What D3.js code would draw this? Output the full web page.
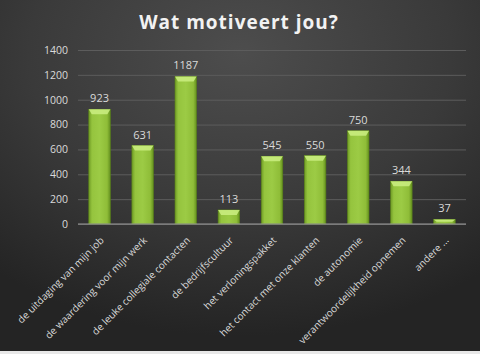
<!DOCTYPE html>
<html><head><meta charset="utf-8">
<script src="https://cdn.jsdelivr.net/npm/d3@7"></script>
<style>html,body{margin:0;padding:0;background:#fff;}svg{display:block;}</style>
</head><body>
<script>
const categories = ["de  uitdaging van mijn job","de waardering voor mijn werk","de leuke collegiale contacten","de bedrijfscultuur","het verloningspakket","het contact met onze klanten","de autonomie","verantwoordelijkheid opnemen","andere ..."];
const values = [923,631,1187,113,545,550,750,344,37];
const yTicks = [0,200,400,600,800,1000,1200,1400];
const title = "Wat motiveert jou?";

const W=480,H=354;
const FONT="Open Sans, DejaVu Sans, sans-serif";
const svg=d3.select("body").append("svg").attr("width",W).attr("height",H);
const defs=svg.append("defs");
const bg=defs.append("radialGradient").attr("id","bg").attr("cx","50%").attr("cy","15%").attr("r","80%");
bg.append("stop").attr("offset","0%").attr("stop-color","#4d4d4d");
bg.append("stop").attr("offset","55%").attr("stop-color","#3a3a3a");
bg.append("stop").attr("offset","100%").attr("stop-color","#242424");
const bar=defs.append("linearGradient").attr("id","bar").attr("x1","0").attr("x2","1").attr("y1","0").attr("y2","0");
bar.append("stop").attr("offset","0%").attr("stop-color","#6f9b25");
bar.append("stop").attr("offset","15%").attr("stop-color","#95c43e");
bar.append("stop").attr("offset","50%").attr("stop-color","#9ccb45");
bar.append("stop").attr("offset","85%").attr("stop-color","#8fbd38");
bar.append("stop").attr("offset","100%").attr("stop-color","#64901f");

svg.append("rect").attr("width",W).attr("height",H).attr("fill","url(#bg)");
svg.append("rect").attr("x",0).attr("y",H-3).attr("width",W).attr("height",3).attr("fill","#e8e8e8");

const x=d3.scaleBand().domain(categories).range([78,466]).paddingInner(0.5).paddingOuter(0.25);
const y=d3.scaleLinear().domain([0,1400]).range([224,50]);

svg.append("text").attr("x",239).attr("y",29).attr("text-anchor","middle")
 .attr("font-family",FONT).attr("font-weight","bold")
 .attr("font-size",19).attr("letter-spacing",1).attr("fill","#f2f2f2").text(title);

const ga=svg.append("g").attr("transform","translate(78,0)")
 .call(d3.axisLeft(y).tickValues(yTicks).tickFormat(d3.format("d")).tickSize(-388).tickPadding(10));
ga.select(".domain").remove();
ga.selectAll(".tick line").attr("stroke","#5c5c5c").attr("stroke-width",1);
ga.selectAll(".tick text").attr("fill","#dadada").attr("font-size",10.5).attr("font-family",FONT);

const g=svg.append("g");
g.selectAll("rect.b").data(values).join("rect").attr("class","b")
 .attr("x",(d,i)=>x(categories[i])).attr("width",x.bandwidth())
 .attr("y",d=>y(d)).attr("height",d=>y(0)-y(d))
 .attr("fill","url(#bar)").attr("stroke","#5a8418").attr("stroke-width",0.6);
g.selectAll("path.hl").data(values).join("path").attr("class","hl")
 .attr("d",(d,i)=>{const x0=x(categories[i]),w=x.bandwidth(),t=y(d);const h=Math.min(5,(y(0)-t)/2);
   return `M${x0},${t}L${x0+w},${t}L${x0+w-3},${t+h}L${x0+3},${t+h}Z`;})
 .attr("fill","#c9ec7e").attr("opacity",0.9);
g.selectAll("text.v").data(values).join("text").attr("class","v")
 .attr("x",(d,i)=>x(categories[i])+x.bandwidth()/2).attr("y",d=>y(d)-7)
 .attr("text-anchor","middle").attr("fill","#dadada").attr("font-size",11)
 .attr("font-family",FONT).text(d=>d);

svg.append("line").attr("x1",78).attr("x2",466).attr("y1",y(0)).attr("y2",y(0)).attr("stroke","#9a9a9a").attr("stroke-width",1.2);

const gx=svg.append("g").attr("transform",`translate(0,${y(0)})`).call(d3.axisBottom(x).tickSize(0).tickPadding(0));
gx.select(".domain").remove();
gx.selectAll(".tick text").attr("fill","#dadada").attr("font-size",10)
 .attr("font-family",FONT)
 .attr("text-anchor","end").attr("y",0).attr("dy",0).attr("transform","translate(5,17) rotate(-45)");
</script>
</body></html>
